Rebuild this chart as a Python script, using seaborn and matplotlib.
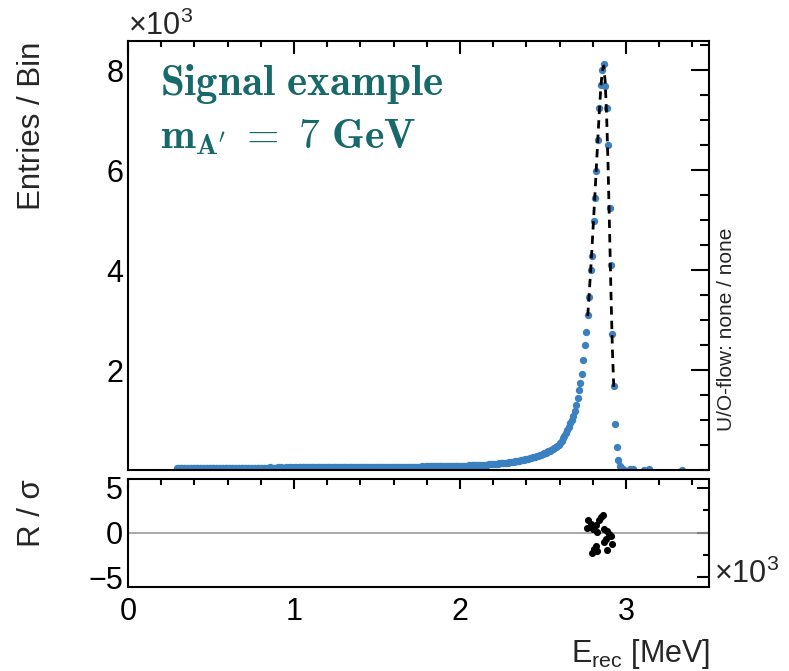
import numpy as np
import pandas as pd
import matplotlib
matplotlib.use("Agg")
import matplotlib.pyplot as plt
import seaborn as sns
from matplotlib.ticker import MultipleLocator

# histogram: 400 bins over 0 - 3.5 x10^3 MeV, first filled bin is 33
n_bins = 400
x_max = 3.5
first_bin = 33

counts_tail = [
    38, 40, 39, 41, 40, 42, 39, 41, 43, 40, 42, 41, 44, 42, 40, 43, 42, 44, 41, 43, 45, 42, 44, 43,
    43, 45, 44, 42, 46, 44, 45, 47, 43, 46, 45, 44, 47, 46, 45, 48, 44, 46, 47, 45,
    48, 46, 47, 45, 49, 47, 46, 48, 47, 49, 46, 48, 50, 47, 48, 49, 47, 50, 48, 49,
    51, 48, 50, 49, 47, 50, 52, 49, 51, 50, 48, 51, 50, 52, 49, 51, 50,
    51, 53, 50, 52, 54, 51, 53, 52, 55, 53, 51, 54, 53, 55, 52, 54, 56, 53, 55, 54,
    56, 54, 57, 55, 53, 56, 55, 57, 56, 54, 57, 58, 55, 57, 56, 58, 57, 55, 58, 59,
    57, 58, 56, 59, 58, 60, 57, 59, 58, 60, 59, 57, 60, 59, 61, 58, 60,
    61, 60, 62, 61, 63, 62, 60, 63, 64, 62, 63, 65, 64, 62, 65, 64, 66, 65, 63, 66,
    67, 65, 66, 68, 67, 66, 69, 68, 67, 70, 69, 71, 68, 70, 72, 71, 70, 73, 72, 74,
    73, 75, 74, 76, 75, 77, 76, 78, 77, 79, 80, 78, 81, 80, 82, 83, 81, 84,
    85, 87, 86, 89, 88, 91, 90, 93, 94, 96, 95, 98, 100, 99, 102, 104, 106, 105, 109, 111, 114, 117,
    120, 122, 125, 127, 131, 133, 136, 139, 143, 146, 150, 155,
    160, 164, 169, 174, 179, 184, 190, 196, 202, 208, 215,
    221, 228, 235, 243, 251, 259, 268, 277, 287, 297, 308, 320,
    332, 345, 358, 372, 387, 402, 418, 436,
]
counts_peak = [
    458, 482, 510, 545, 590, 640, 690, 750, 810, 870, 940, 1010, 1090, 1180, 1300, 1440,
    1600, 1740, 1930, 2200, 2500, 2770, 3100, 3470, 4000, 4280, 4980, 5440, 5980, 6600,
    7240, 7710, 8010, 8120, 7680, 7240, 6500, 5240, 4100, 2730, 1690, 920, 460, 200,
    90, 35, 18,
]
late_bins = [345, 347, 355, 358, 381]
late_counts = [15, 12, 10, 12, 10]

# fit curve evaluated at bin centres 316..334
fit_first_bin = 316
fit_counts = [3080, 3520, 3980, 4470, 5000, 5530, 6080, 6640, 7170, 7640,
              7980, 8080, 7780, 7100, 6100, 4850, 3550, 2400, 1600]

# residuals R / sigma (x in 10^3 MeV)
res_x = [2.768, 2.774, 2.792, 2.798, 2.804, 2.808, 2.818, 2.818, 2.828, 2.828, 2.838,
         2.848, 2.862, 2.868, 2.868, 2.878, 2.888, 2.888, 2.898, 2.908, 2.918]
res_val = [0.49, 1.44, 0.99, -2.24, 0.42, -1.86, 0.80, -1.48, 0.04, -2.05, 1.36,
           1.74, 2.00, 0.42, -1.10, -0.72, 0.23, -1.97, -0.15, -0.34, -1.28]

width = x_max / n_bins
counts = np.zeros(n_bins)
counts[first_bin:first_bin + len(counts_tail)] = counts_tail
start = first_bin + len(counts_tail)
counts[start:start + len(counts_peak)] = counts_peak
counts[late_bins] = late_counts
centres = (np.arange(n_bins) + 0.5) * width
hist = pd.DataFrame({"E": centres, "N": counts / 1000})
hist = hist[hist["N"] > 0]

fit = pd.DataFrame({
    "E": centres[fit_first_bin:fit_first_bin + len(fit_counts)],
    "N": np.array(fit_counts) / 1000,
})
res = pd.DataFrame({"E": res_x, "R": res_val})

sns.set_style("white")
plt.rcParams["font.family"] = ["Liberation Sans", "DejaVu Sans"]
plt.rcParams["mathtext.default"] = "regular"

fig = plt.figure(figsize=(7.89, 6.71), dpi=100)
W, H = 789, 671
ax = fig.add_axes([128 / W, 1 - 470 / H, 581 / W, 429 / H])
axr = fig.add_axes([128 / W, 1 - 587 / H, 581 / W, 108 / H])

blue = "#3b80c0"
sns.scatterplot(data=hist, x="E", y="N", ax=ax, color=blue, s=28, linewidth=0, zorder=2)
sns.lineplot(data=fit, x="E", y="N", ax=ax, color="black", linewidth=2,
             linestyle=(0, (3, 2.2)), zorder=3)

axr.axhline(0, color="#999999", linewidth=1.2, zorder=1)
sns.scatterplot(data=res, x="E", y="R", ax=axr, color="black", s=26, linewidth=0, zorder=2)

for a in (ax, axr):
    a.set_xlim(0, x_max)
    a.set_xlabel("")
    a.set_ylabel("")
    a.xaxis.set_major_locator(MultipleLocator(1))
    a.xaxis.set_minor_locator(MultipleLocator(0.2))
    a.tick_params(which="both", direction="in", top=True, right=True,
                  width=1.5, labelsize=22, colors="black")
    for sp in a.spines.values():
        sp.set_color("black")
        sp.set_linewidth(1.5)

ax.set_ylim(0, 8.58)
ax.set_yticks([2, 4, 6, 8])
ax.yaxis.set_minor_locator(MultipleLocator(0.5))
ax.tick_params(labelbottom=False)
ax.tick_params(axis="y", which="major", length=13)
ax.tick_params(axis="y", which="minor", length=6.5)
ax.tick_params(axis="x", which="major", length=9)
ax.tick_params(axis="x", which="minor", length=4)

axr.set_ylim(-6.1, 6.0)
axr.set_yticks([-5, 0, 5])
axr.yaxis.set_minor_locator(MultipleLocator(2.5))
axr.tick_params(axis="y", which="major", length=9)
axr.tick_params(axis="y", which="minor", length=4)
axr.tick_params(axis="x", which="major", length=7, pad=7)
axr.tick_params(axis="x", which="minor", length=4)

teal = "#17696a"
ax.text(0.055, (470 - 95) / 429, r"$\mathbf{Signal\ example}$", transform=ax.transAxes,
        fontsize=31, color=teal, math_fontfamily="cm", va="baseline")
ax.text(0.055, (470 - 148) / 429, r"$\mathbf{m}_{\mathbf{A'}}\mathbf{\ =\ 7\ GeV}$",
        transform=ax.transAxes, fontsize=30, color=teal, math_fontfamily="cm", va="baseline")

fig.text(0.041, 1 - 42 / H, "Entries / Bin", rotation=90, ha="center", va="top", fontsize=22.5)
fig.text(0.041, 1 - 479 / H, "R / σ", rotation=90, ha="center", va="top", fontsize=22.5)
fig.text(710 / W, 9 / H, r"E$_{rec}$ [MeV]", ha="right", va="baseline", fontsize=22)
fig.text(128 / W, 1 - 35 / H, r"×10$^3$", ha="left", va="baseline", fontsize=22)
fig.text(714 / W, 1 - 583 / H, r"×10$^3$", ha="left", va="baseline", fontsize=22)
fig.text(726 / W, 1 - 329 / H, "U/O-flow: none / none", rotation=90,
         ha="center", va="center", fontsize=15)

fig.savefig("out.png", dpi=100)
